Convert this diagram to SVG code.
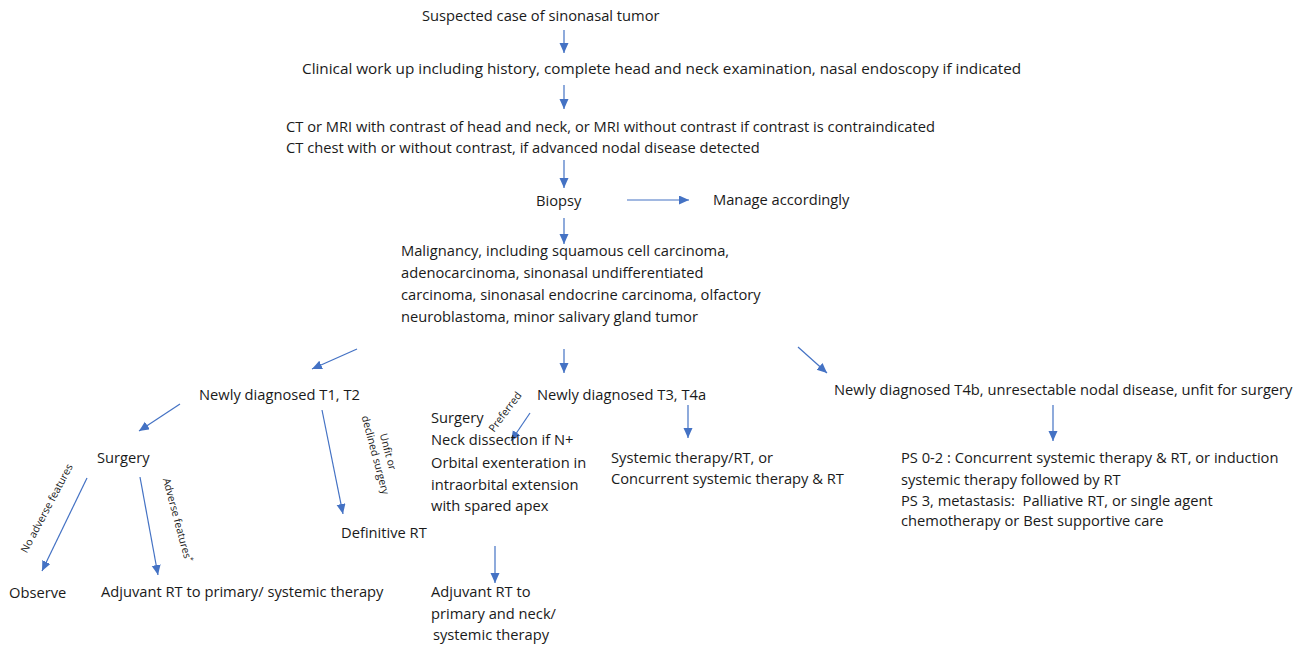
<svg xmlns="http://www.w3.org/2000/svg" width="1301" height="645" viewBox="0 0 1301 645">
<defs>
<style>
text{font-family:"Open Sans","Liberation Sans",sans-serif;font-size:14.7px;fill:#1a1a1a}
.s{font-size:10.5px}
.c{stroke:#4472C4;stroke-width:1.2;fill:none;marker-end:url(#ah)}
</style>
<marker id="ah" markerUnits="userSpaceOnUse" markerWidth="12" markerHeight="10" refX="10" refY="4.5" orient="auto">
<path d="M0,0 L10,4.5 L0,9 Z" fill="#4472C4"/>
</marker>
</defs>
<rect width="1301" height="645" fill="#fff"/>
<g id="connectors">
<line class="c" x1="564" y1="30" x2="564" y2="53"/>
<line class="c" x1="564" y1="85" x2="564" y2="109"/>
<line class="c" x1="564" y1="160" x2="564" y2="188"/>
<line class="c" x1="627" y1="200" x2="689" y2="200"/>
<line class="c" x1="564" y1="218" x2="564" y2="244"/>
<line class="c" x1="357" y1="349" x2="312" y2="369"/>
<line class="c" x1="564" y1="349" x2="564" y2="373"/>
<line class="c" x1="798" y1="347" x2="827" y2="373"/>
<line class="c" x1="180" y1="404" x2="139" y2="431"/>
<line class="c" x1="322" y1="410" x2="343" y2="514"/>
<line class="c" x1="530" y1="413" x2="511" y2="441"/>
<line class="c" x1="688" y1="405" x2="688" y2="438"/>
<line class="c" x1="1053" y1="405" x2="1053" y2="441"/>
<line class="c" x1="87" y1="478" x2="42" y2="571"/>
<line class="c" x1="140" y1="477" x2="158" y2="575"/>
<line class="c" x1="495" y1="546" x2="495" y2="583"/>
<text class="s" transform="translate(50,510) rotate(-62)" text-anchor="middle">No adverse features</text>
<text class="s" transform="translate(174,521) rotate(75)" text-anchor="middle">Adverse features<tspan dy="-4" font-size="7">*</tspan></text>
<text class="s" transform="translate(372,456) rotate(75)" text-anchor="middle"><tspan x="0" y="-13">Unfit or</tspan><tspan x="0" y="0">declined surgery</tspan></text>
<text class="s" transform="translate(508,414) rotate(-53)" text-anchor="middle">Preferred</text>
</g>
<g id="n1"><text x="422" y="21">Suspected case of sinonasal tumor</text></g>
<g id="n2"><text x="302" y="74" style="font-size:15.3px">Clinical work up including history, complete head and neck examination, nasal endoscopy if indicated</text></g>
<g id="n3"><text x="286" y="132">CT or MRI with contrast of head and neck, or MRI without contrast if contrast is contraindicated</text><text x="286" y="153">CT chest with or without contrast, if advanced nodal disease detected</text></g>
<g id="n4"><text x="536" y="206">Biopsy</text></g>
<g id="n5"><text x="713" y="205">Manage accordingly</text></g>
<g id="n6"><text x="401" y="256">Malignancy, including squamous cell carcinoma,</text><text x="401" y="278">adenocarcinoma, sinonasal undifferentiated</text><text x="401" y="300">carcinoma, sinonasal endocrine carcinoma, olfactory</text><text x="401" y="322">neuroblastoma, minor salivary gland tumor</text></g>
<g id="n7"><text x="199" y="400">Newly diagnosed T1, T2</text></g>
<g id="n8"><text x="537" y="400">Newly diagnosed T3, T4a</text></g>
<g id="n9"><text x="834" y="395">Newly diagnosed T4b, unresectable nodal disease, unfit for surgery</text></g>
<g id="n10"><text x="97" y="463">Surgery</text></g>
<g id="n11"><text x="341" y="538">Definitive RT</text></g>
<g id="n12"><text x="431" y="423">Surgery</text><text x="431" y="445">Neck dissection if N+</text><text x="431" y="468">Orbital exenteration in</text><text x="431" y="490">intraorbital extension</text><text x="431" y="511">with spared apex</text></g>
<g id="n13"><text x="611" y="463">Systemic therapy/RT, or</text><text x="611" y="484">Concurrent systemic therapy &amp; RT</text></g>
<g id="n14"><text x="901" y="463">PS 0-2 : Concurrent systemic therapy &amp; RT, or induction</text><text x="901" y="485">systemic therapy followed by RT</text><text x="901" y="506" xml:space="preserve">PS 3, metastasis:  Palliative RT, or single agent</text><text x="901" y="526">chemotherapy or Best supportive care</text></g>
<g id="n15"><text x="9" y="598">Observe</text></g>
<g id="n16"><text x="101" y="597">Adjuvant RT to primary/ systemic therapy</text></g>
<g id="n17"><text x="431" y="597">Adjuvant RT to</text><text x="431" y="619">primary and neck/</text><text x="433" y="640">systemic therapy</text></g>
</svg>
